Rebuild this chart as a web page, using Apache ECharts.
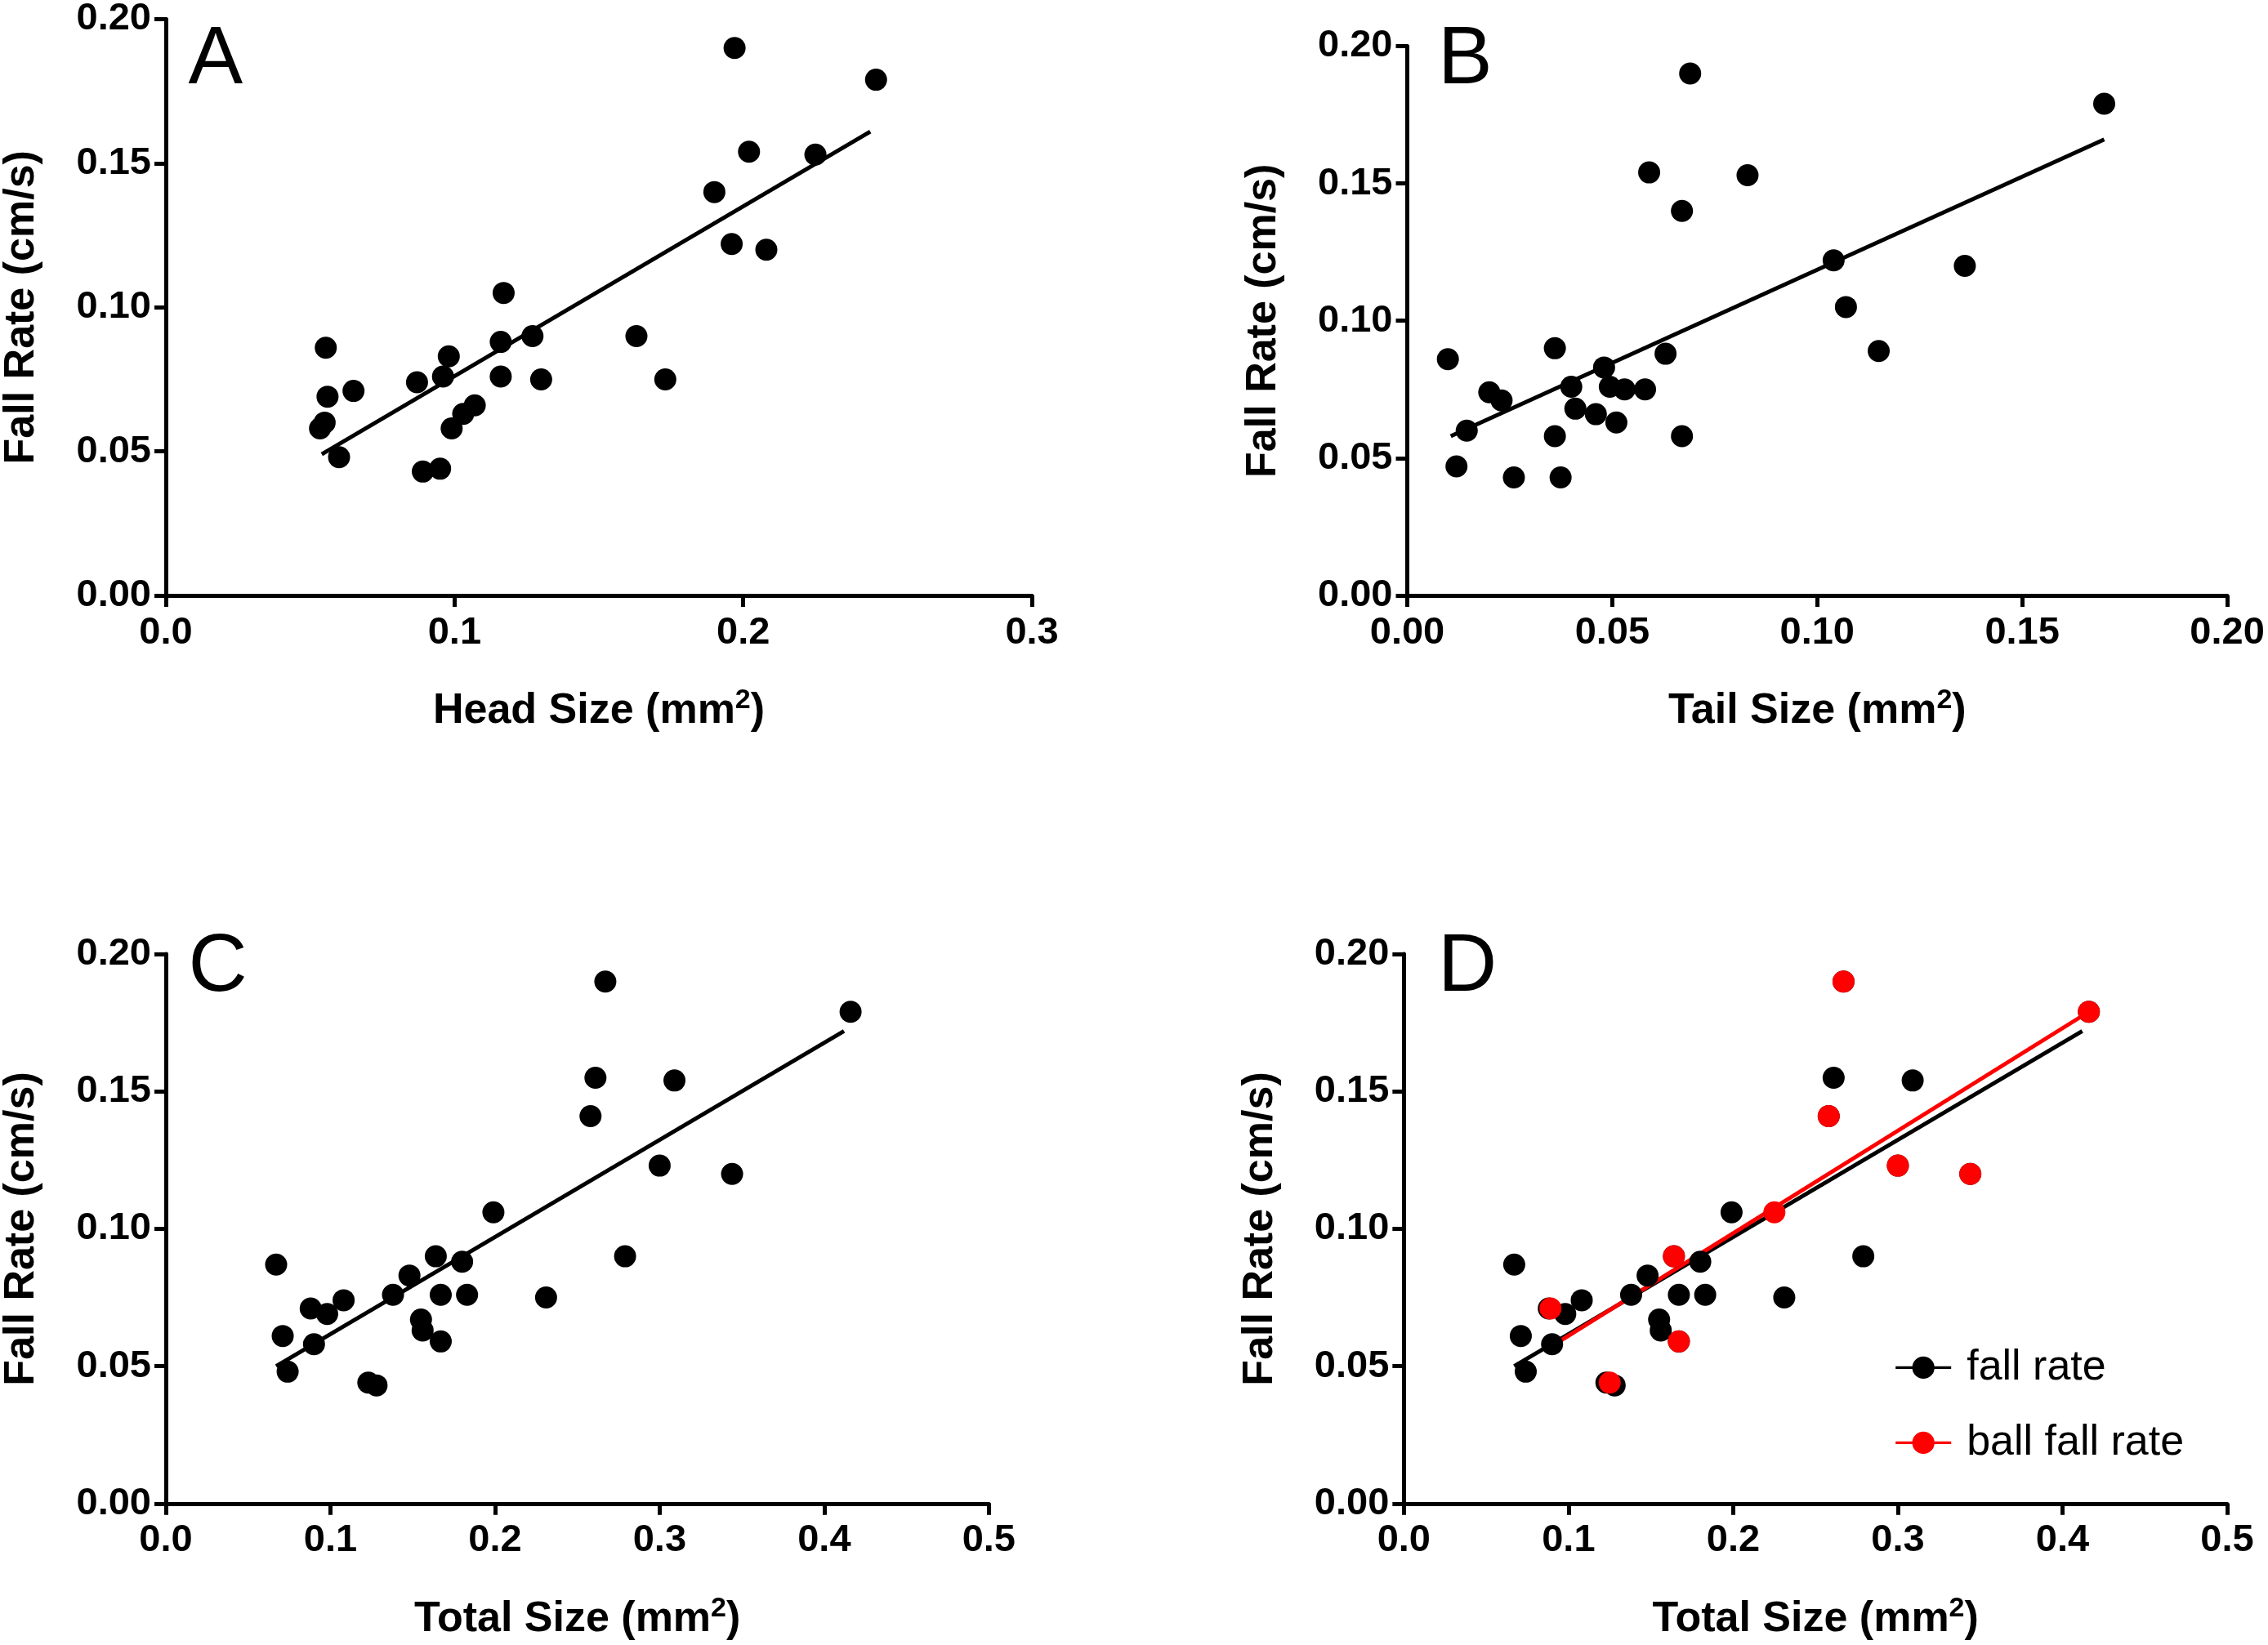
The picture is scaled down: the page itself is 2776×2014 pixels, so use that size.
<!DOCTYPE html>
<html>
<head>
<meta charset="utf-8">
<script src="https://cdn.jsdelivr.net/npm/echarts@6/dist/echarts.min.js"></script>
<style>html,body{margin:0;padding:0;background:#fff}#chart{width:2776px;height:2014px}</style>
</head>
<body>
<div id="chart"></div>
<script>
// panel A: head size vs fall rate
var headX = [0.0534,0.055,0.0554,0.056,0.060,0.065,0.087,0.089,0.096,0.095,0.098,0.099,0.103,0.107,0.116,0.116,0.117,0.127,0.130,0.163,0.173,0.190,0.196,0.197,0.202,0.208,0.225,0.246];
var headY = [0.058,0.060,0.086,0.069,0.048,0.071,0.074,0.043,0.076,0.044,0.083,0.058,0.063,0.066,0.088,0.076,0.105,0.090,0.075,0.090,0.075,0.140,0.122,0.190,0.154,0.120,0.153,0.179];
var headFit = [[0.054,0.049],[0.244,0.161]];
// panel B: tail size
var tailX = [0.0099,0.012,0.0145,0.020,0.023,0.026,0.036,0.036,0.0374,0.040,0.041,0.046,0.048,0.0494,0.051,0.053,0.058,0.059,0.063,0.067,0.067,0.069,0.083,0.104,0.107,0.115,0.136,0.170];
var tailY = [0.086,0.047,0.060,0.074,0.071,0.043,0.090,0.058,0.043,0.076,0.068,0.066,0.083,0.076,0.063,0.075,0.075,0.154,0.088,0.140,0.058,0.190,0.153,0.122,0.105,0.089,0.120,0.179];
var tailFit = [[0.0106,0.058],[0.170,0.166]];
// panel C/D: total size
var totalX = [0.067,0.071,0.074,0.088,0.090,0.098,0.108,0.123,0.128,0.138,0.148,0.155,0.156,0.164,0.167,0.167,0.180,0.183,0.199,0.231,0.258,0.261,0.267,0.279,0.300,0.309,0.344,0.416];
var totalY = [0.087,0.061,0.048,0.071,0.058,0.069,0.074,0.044,0.043,0.076,0.083,0.067,0.063,0.090,0.076,0.059,0.088,0.076,0.106,0.075,0.141,0.155,0.190,0.090,0.123,0.154,0.120,0.179];
var totalFit = [[0.067,0.050],[0.412,0.172]];
// panel D: ball fall rate
var ballX = [0.089,0.125,0.164,0.167,0.225,0.258,0.267,0.300,0.344,0.416];
var ballY = [0.071,0.044,0.090,0.059,0.106,0.141,0.190,0.123,0.120,0.179];
var ballFit = [[0.089,0.057],[0.416,0.179]];

function zip(xs, ys) { return xs.map(function (x, i) { return [x, ys[i]]; }); }

var font = 'Liberation Sans';
var grids = [
  {left:'7.2%', right:'54.5%', top:'1.15%', bottom:'63.8%'},
  {left:'62.05%', right:'1.8%', top:'2.8%', bottom:'63.8%'},
  {left:'7.2%', right:'56.4%', top:'58%', bottom:'8.6%'},
  {left:'61.9%', right:'1.8%', top:'58%', bottom:'8.6%'}
];
var xDefs = [
  {max:0.3, interval:0.1, dec:1, name:'Head Size (mm{sup|2})'},
  {max:0.2, interval:0.05, dec:2, name:'Tail Size (mm{sup|2})'},
  {max:0.5, interval:0.1, dec:1, name:'Total Size (mm{sup|2})'},
  {max:0.5, interval:0.1, dec:1, name:'Total Size (mm{sup|2})'}
];
var axisLine = {lineStyle:{color:'#000', width:5}};
var axisTick = {length:14, lineStyle:{color:'#000', width:5}};

var xAxis = xDefs.map(function (d, i) {
  return {
    type:'value', gridIndex:i, min:0, max:d.max, interval:d.interval,
    splitLine:{show:false}, axisLine:axisLine, axisTick:axisTick,
    axisLabel:{fontFamily:font, fontWeight:'bold', fontSize:47, color:'#000', margin:22,
      formatter:function (v) { return v.toFixed(d.dec); }},
    name:d.name, nameLocation:'middle', nameGap:112,
    nameTextStyle:{fontFamily:font, fontWeight:'bold', fontSize:52, color:'#000',
      rich:{sup:{fontFamily:font, fontWeight:'bold', fontSize:34, color:'#000', verticalAlign:'top', padding:[0,0,26,0]}}}
  };
});
var yAxis = grids.map(function (g, i) {
  return {
    type:'value', gridIndex:i, min:0, max:0.2, interval:0.05,
    splitLine:{show:false}, axisLine:axisLine, axisTick:axisTick,
    axisLabel:{fontFamily:font, fontWeight:'bold', fontSize:47, color:'#000', margin:18,
      formatter:function (v) { return v.toFixed(2); }},
    name:'Fall Rate (cm/s)', nameLocation:'middle', nameGap:150,
    nameTextStyle:{fontFamily:font, fontWeight:'bold', fontSize:52, color:'#000'}
  };
});

function dots(i, data, color, name) {
  return {type:'scatter', name:name, xAxisIndex:i, yAxisIndex:i, data:data,
    symbolSize:27, itemStyle:{color:color, opacity:1}, z:3};
}
function fit(i, data, color, name) {
  return {type:'line', name:name, xAxisIndex:i, yAxisIndex:i, data:data,
    symbol:'none', lineStyle:{color:color, width:5}, itemStyle:{color:color}, z:2};
}

var series = [
  dots(0, zip(headX, headY), '#000'), fit(0, headFit, '#000'),
  dots(1, zip(tailX, tailY), '#000'), fit(1, tailFit, '#000'),
  dots(2, zip(totalX, totalY), '#000'), fit(2, totalFit, '#000'),
  dots(3, zip(totalX, totalY), '#000', 'fall rate'), fit(3, totalFit, '#000', 'fall rate'),
  dots(3, zip(ballX, ballY), '#ff0000', 'ball fall rate'), fit(3, ballFit, '#ff0000', 'ball fall rate')
];

var letters = [['A','8.3%','1.2%'],['B','63.4%','1.2%'],['C','8.3%','56.4%'],['D','63.4%','56.4%']];
var icon = 'path://M0,9L40,9L40,11L0,11Z M20,12A8,8 0 1 1 20,-4A8,8 0 1 1 20,12Z';

var chart = echarts.init(document.getElementById('chart'));
chart.setOption({
  backgroundColor:'#fff',
  animation:false,
  grid:grids,
  xAxis:xAxis,
  yAxis:yAxis,
  series:series,
  graphic:letters.map(function (l) {
    return {type:'text', left:l[1], top:l[2],
      style:{text:l[0], fontFamily:font, fontSize:100, fill:'#000'}};
  }),
  legend:{
    data:[{name:'fall rate', icon:'path://M0,9L40,9L40,11L0,11Z M20,2A8,8 0 1 1 20,18A8,8 0 1 1 20,2Z'},
          {name:'ball fall rate', icon:'path://M0,9L40,9L40,11L0,11Z M20,2A8,8 0 1 1 20,18A8,8 0 1 1 20,2Z'}],
    orient:'vertical', left:'83.4%', top:'81.6%', itemWidth:68, itemHeight:34, itemGap:40,
    textStyle:{fontFamily:font, fontSize:52, color:'#000', padding:[0,0,0,14]}
  }
});
</script>
</body>
</html>
